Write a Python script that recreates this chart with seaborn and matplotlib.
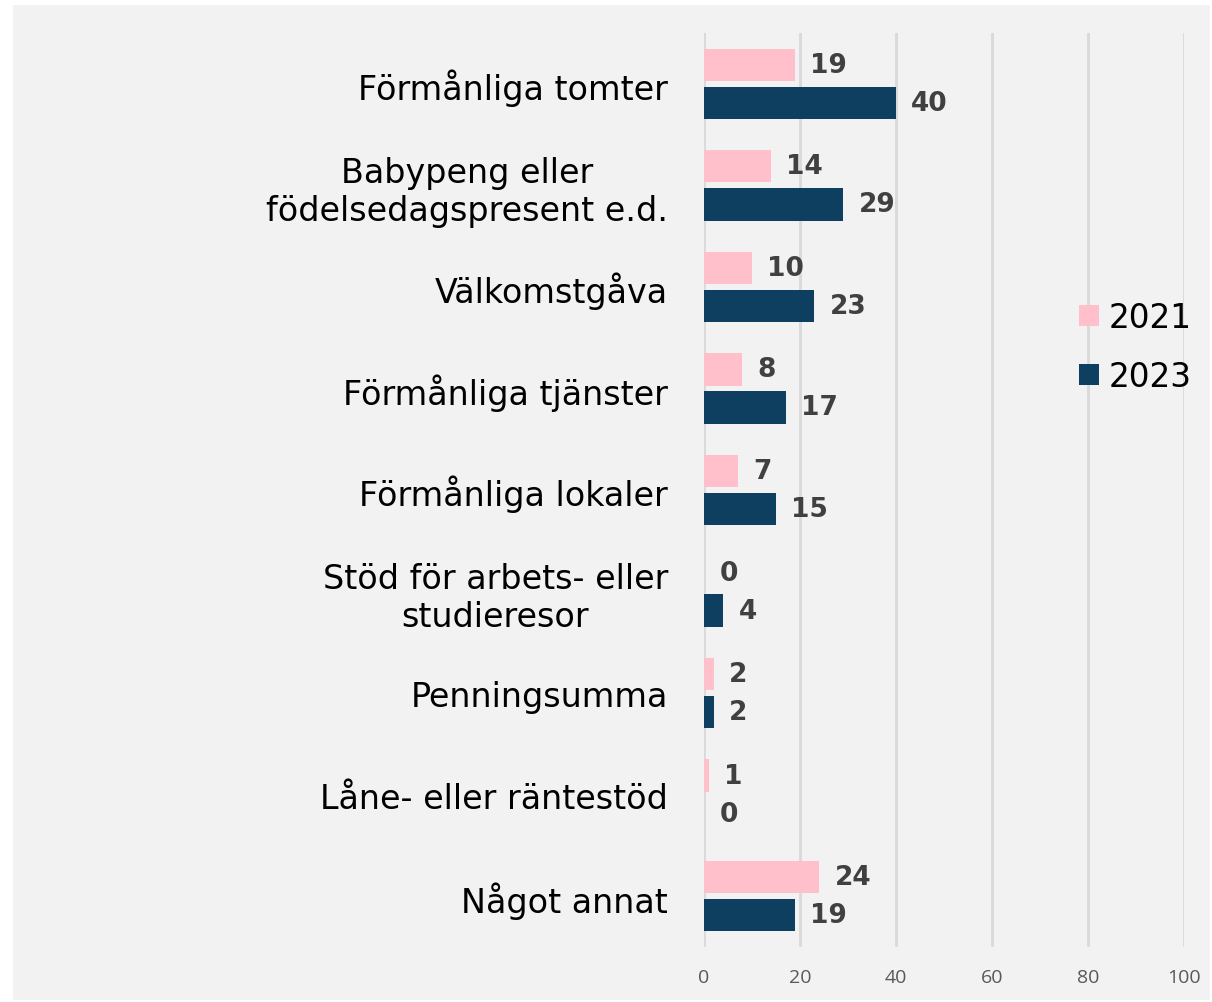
import matplotlib
matplotlib.use("Agg")
import pandas as pd
import matplotlib.pyplot as plt
import seaborn as sns
from matplotlib.patches import Rectangle

kategorier = [
    "Förmånliga tomter",
    "Babypeng eller\nfödelsedagspresent e.d.",
    "Välkomstgåva",
    "Förmånliga tjänster",
    "Förmånliga lokaler",
    "Stöd för arbets- eller\nstudieresor",
    "Penningsumma",
    "Låne- eller räntestöd",
    "Något annat",
]
varden_2021 = [19, 14, 10, 8, 7, 0, 2, 1, 24]
varden_2023 = [40, 29, 23, 17, 15, 4, 2, 0, 19]
ar = ["2021", "2023"]
farger = ["#ffc0cb", "#0f3f60"]
x_ticks = [0, 20, 40, 60, 80, 100]

df = pd.DataFrame({
    "kategori": kategorier * 2,
    "andel": varden_2021 + varden_2023,
    "ar": [ar[0]] * len(kategorier) + [ar[1]] * len(kategorier),
})

sns.set_theme(style="white")
plt.rcParams["font.family"] = ["DejaVu Sans"]

fig = plt.figure(figsize=(12.12, 10.03), dpi=100, facecolor="white")
fig.patches.append(Rectangle((13 / 1212, 1 - 1001 / 1003), 1197 / 1212, 995 / 1003,
                             transform=fig.transFigure, facecolor="#f2f2f2",
                             edgecolor="none", zorder=-5))
ax = fig.add_axes([704 / 1212, 1 - 948 / 1003, 480 / 1212, 914 / 1003])
ax.set_facecolor("#f2f2f2")

sns.barplot(data=df, y="kategori", x="andel", hue="ar", order=kategorier,
            hue_order=ar, palette=farger, orient="h", width=0.75, gap=0.15,
            saturation=1, linewidth=0, ax=ax, zorder=3)

# värdeetiketter
for cont in ax.containers:
    ax.bar_label(cont, labels=[f"{int(v)}" for v in cont.datavalues], padding=11,
                 fontsize=19, fontweight="bold", color="#404040")

ax.set_xlim(0, 100)
ax.set_xticks(x_ticks)
ax.tick_params(axis="x", labelsize=14, labelcolor="#595959", length=0, pad=15)
ax.tick_params(axis="y", labelsize=24, labelcolor="black", length=0, pad=26)
for t in ax.get_yticklabels():
    t.set_multialignment("center")
    t.set_linespacing(1.2)
for t in ax.get_xticklabels():
    t.set_family(["Open Sans", "DejaVu Sans"])
ax.grid(axis="x", color="#d9d9d9", linewidth=2, zorder=0)
ax.set_axisbelow(True)
for s in ax.spines.values():
    s.set_visible(False)
ax.set_xlabel("")
ax.set_ylabel("")

handles, labels = ax.get_legend_handles_labels()
ax.legend_.remove()
for h in handles:
    h.set_edgecolor("none")
fig.legend(handles, labels, loc="center left",
           bbox_to_anchor=(1050 / 1212, 1 - 348 / 1003), frameon=False,
           fontsize=23.5, handlelength=0.6, handleheight=0.6,
           handletextpad=0.3, labelspacing=0.8, labelcolor="black")

fig.savefig("out.png", dpi=100, facecolor="white")
